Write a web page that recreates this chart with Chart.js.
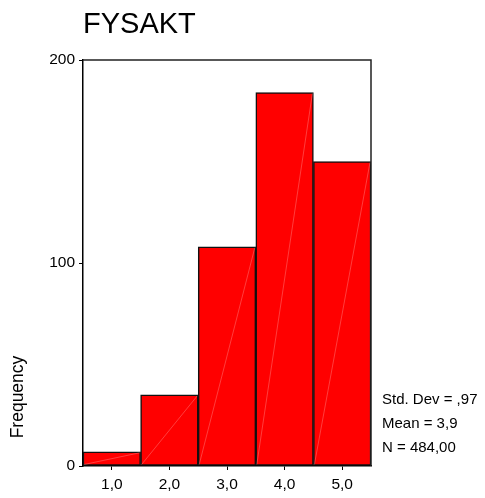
<!DOCTYPE html>
<html>
<head>
<meta charset="utf-8">
<script src="https://cdn.jsdelivr.net/npm/chart.js@4"></script>
<style>
  html, body { margin: 0; padding: 0; background: #fff; }
  #wrap { width: 485px; height: 498px; }
</style>
</head>
<body>
<div id="wrap"><canvas id="c" width="485" height="498"></canvas></div>
<script>
// histogram data
const categories = ['1,0', '2,0', '3,0', '4,0', '5,0'];
const frequencies = [7, 35, 108, 184, 150];
const yTicks = [0, 100, 200];
const statLines = ['Std. Dev = ,97', 'Mean = 3,9', 'N = 484,00'];
const chartTitle = 'FYSAKT';
const yLabel = 'Frequency';

const FONT = '"Liberation Sans", Arial, sans-serif';

// frame, faint diagonals and the side texts
const extras = {
    id: 'extras',
    afterDatasetsDraw(chart) {
        const ctx = chart.ctx;
        const area = chart.chartArea;
        const meta = chart.getDatasetMeta(0);

        // faint diagonal seam in each bar, like the spss output
        ctx.save();
        ctx.strokeStyle = 'rgba(255,170,170,0.6)';
        ctx.lineWidth = 0.6;
        for (let i = 0; i < meta.data.length; i++) {
            const b = meta.data[i];
            const half = b.width / 2;
            ctx.beginPath();
            ctx.moveTo(b.x - half + 1, b.base - 1);
            ctx.lineTo(b.x + half - 1, b.y + 1);
            ctx.stroke();
        }
        ctx.restore();

        // top and right frame
        ctx.save();
        ctx.strokeStyle = '#222';
        ctx.lineWidth = 1.5;
        ctx.beginPath();
        ctx.moveTo(area.left, area.top);
        ctx.lineTo(area.right, area.top);
        ctx.lineTo(area.right, area.bottom);
        ctx.stroke();
        ctx.restore();
    },
    afterDraw(chart) {
        const ctx = chart.ctx;
        const area = chart.chartArea;
        ctx.save();
        ctx.fillStyle = '#000';

        ctx.font = '29px ' + FONT;
        ctx.textAlign = 'left';
        ctx.textBaseline = 'alphabetic';
        ctx.fillText(chartTitle, area.left, 33);

        ctx.font = '15px ' + FONT;
        for (let i = 0; i < statLines.length; i++) {
            ctx.fillText(statLines[i], area.right + 11, 404 + i * 24);
        }

        ctx.translate(18, 397);
        ctx.rotate(-Math.PI / 2);
        ctx.font = '17.5px ' + FONT;
        ctx.textAlign = 'center';
        ctx.textBaseline = 'middle';
        ctx.fillText(yLabel, 0, 0);
        ctx.restore();
    }
};

new Chart(document.getElementById('c'), {
    type: 'bar',
    data: {
        labels: categories,
        datasets: [{
            data: frequencies,
            backgroundColor: '#ff0000',
            borderColor: '#111',
            borderWidth: 1.5,
            borderSkipped: false,
            barPercentage: 1,
            categoryPercentage: 1
        }]
    },
    options: {
        responsive: false,
        animation: false,
        layout: { padding: { top: 60, right: 114, bottom: 0, left: 0 } },
        plugins: {
            legend: { display: false },
            tooltip: { enabled: false }
        },
        scales: {
            x: {
                grid: { display: true, offset: false, drawOnChartArea: false, drawTicks: true, tickLength: 4, color: '#000', lineWidth: 1 },
                border: { display: true, color: '#000', width: 1.5 },
                ticks: { color: '#000', font: { family: FONT, size: 15.5 }, padding: 5, maxRotation: 0 },
                afterFit: s => { s.height = 32; }
            },
            y: {
                min: 0,
                max: 200,
                afterBuildTicks: s => { s.ticks = yTicks.map(v => ({ value: v })); },
                grid: { display: true, drawOnChartArea: false, drawTicks: true, tickLength: 4, color: '#000', lineWidth: 1 },
                border: { display: true, color: '#000', width: 1.5 },
                ticks: { color: '#000', font: { family: FONT, size: 15.5 }, padding: 4 },
                afterFit: s => { s.width = 83; }
            }
        }
    },
    plugins: [extras]
});
</script>
</body>
</html>
